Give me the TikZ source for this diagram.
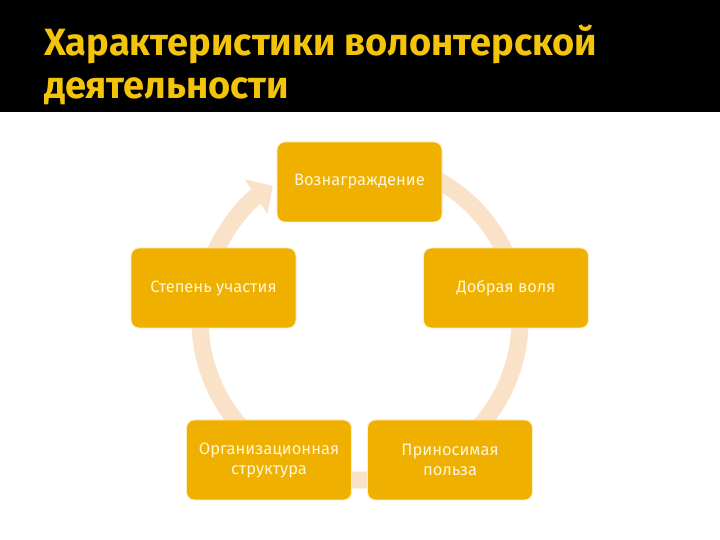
\documentclass[tikz,border=0pt]{standalone}
\usepackage{fontspec}
\setmainfont{Fira Sans}
\usetikzlibrary{arrows.meta}
\definecolor{boxfill}{RGB}{240,176,0}
\definecolor{boxline}{RGB}{255,238,190}
\definecolor{ringcol}{RGB}{250,226,200}
\definecolor{titlecol}{RGB}{244,196,10}
\definecolor{boxtext}{RGB}{255,246,214}
\tikzset{
  stepbox/.style={draw=boxline, line width=0.8pt, fill=boxfill, rounded corners=8pt,
    minimum width=165pt, minimum height=80pt, align=center, text=boxtext,
    font=\fontsize{16.5}{20}\selectfont, inner sep=0pt},
  titletext/.style={text=titlecol, font=\fontsize{38}{42}\selectfont\bfseries, anchor=base west, inner sep=0pt}
}
\begin{document}
\begin{tikzpicture}[x=1pt,y=1pt]
\useasboundingbox (0,0) rectangle (720,540);
\fill[white] (0,0) rectangle (720,540);
\fill[black] (0,428) rectangle (720,540);
\node[titletext] (t1) at (44,484) {Характеристики волонтерской};
\node[titletext] (t2) at (44,441) {деятельности};
% ring
\coordinate (c) at (360,220);
\draw[ringcol, line width=17pt, -{Triangle[width=40pt,length=20pt]}]
  ([shift={(70:160)}]c) arc[start angle=70, end angle=-237, radius=160];
% boxes
\node[stepbox] (top) at (359.5,358) {Вознаграждение};
\node[stepbox] (left) at (213.5,252) {Степень участия};
\node[stepbox] (right) at (506,252) {Добрая воля};
\node[stepbox] (bl) at (269,80) {Организационная\\структура};
\node[stepbox] (br) at (450,80) {Приносимая\\польза};
\end{tikzpicture}
\end{document}
